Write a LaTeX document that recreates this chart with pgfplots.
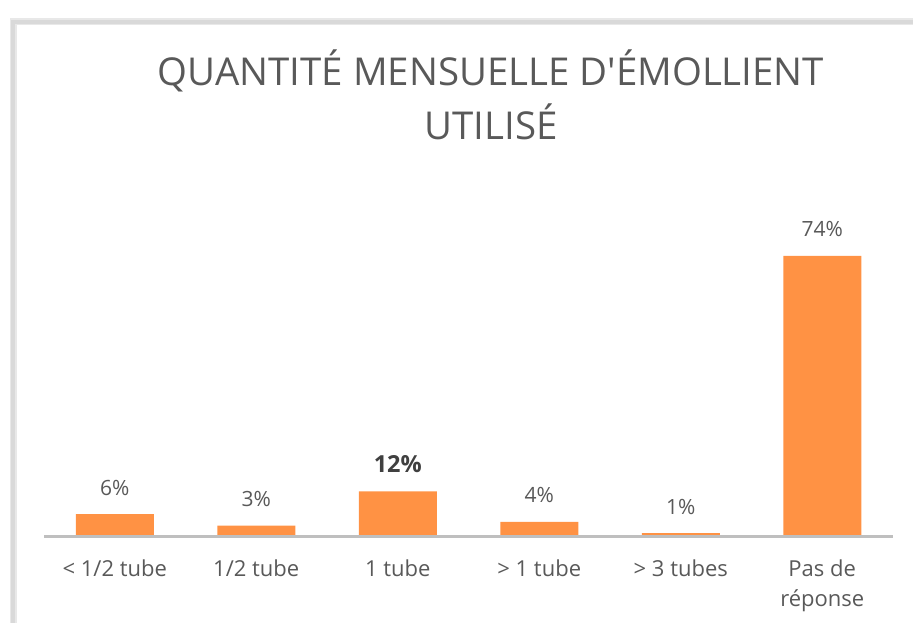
\documentclass[border=0pt]{standalone}
\usepackage{pgfplots}
\pgfplotsset{compat=1.18}
\usepackage{fontspec}
\setmainfont{Open Sans}
\newfontfamily\titlefont{Open Sans}[Ligatures=TeXOff]
\definecolor{barc}{HTML}{FF9244}
\definecolor{txt}{HTML}{595959}
\definecolor{axc}{HTML}{BFBFBF}
\definecolor{frame}{HTML}{D9D9D9}
\begin{document}
\begin{tikzpicture}[x=1pt,y=1pt]
\path[use as bounding box] (0,0) rectangle (913,623);
\draw[frame!60, line width=7pt] (13,-5) -- (13,601) -- (920,601);
\draw[frame, line width=3.5pt] (13,-5) -- (13,601) -- (920,601);
\node[anchor=base, text=txt, font=\titlefont\fontsize{38.4}{47}\selectfont] at (491,537) {QUANTITÉ MENSUELLE D'ÉMOLLIENT};
\node[anchor=base, text=txt, font=\titlefont\fontsize{38.4}{47}\selectfont] at (491,483) {UTILISÉ};
\begin{axis}[
  at={(44pt,86pt)}, anchor=south west,
  scale only axis, width=849pt, height=337pt,
  xmin=-0.5, xmax=5.5, ymin=0, ymax=88.68,
  axis line style={draw=none},
  axis x line*=bottom, axis y line=none,
  ybar, bar width=78pt,
  xtick={0,1,2,3,4,5},
  xticklabels={{< 1/2 tube},{1/2 tube},{1 tube},{> 1 tube},{> 3 tubes},{Pas de\\réponse}},
  major tick length=0pt,
  xticklabel style={anchor=north, align=center, text=txt, inner sep=0pt, font=\fontsize{22}{30}\selectfont, yshift=-23pt},
  point meta=explicit symbolic,
  nodes near coords,
  nodes near coords style={anchor=base, text=txt, inner sep=0pt, font=\fontsize{21}{25}\selectfont, yshift=19pt},
  clip=false,
]
\addplot[fill=barc, draw=none] coordinates {(0,6) [6\%] (1,3) [3\%] (2,12) [{\fontsize{23.5}{28}\selectfont\bfseries\color{black!75}12\%}] (3,4) [4\%] (4,1) [1\%] (5,74) [74\%]};
\draw[axc, line width=3pt] (axis cs:-0.5,0) -- (axis cs:5.5,0);
\end{axis}
\end{tikzpicture}
\end{document}
